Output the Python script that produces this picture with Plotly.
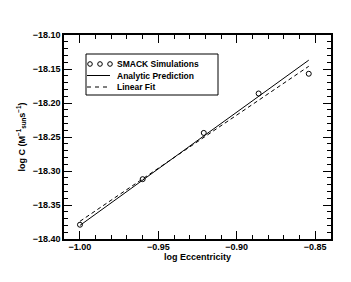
import plotly.graph_objects as go

# Data
sim_x = [-1.000, -0.960, -0.921, -0.886, -0.854]
sim_y = [-18.379, -18.312, -18.244, -18.186, -18.157]
pred_x = [-1.000, -0.854]
pred_y = [-18.380, -18.137]
fit_x = [-1.000, -0.854]
fit_y = [-18.374, -18.146]
legend_labels = ["SMACK Simulations", "Analytic Prediction", "Linear Fit"]

xr = [-1.0102, -0.8398]
yr = [-18.40, -18.10]
xt = [-1.0, -0.95, -0.9, -0.85]
yt = [-18.40, -18.35, -18.30, -18.25, -18.20, -18.15, -18.10]

FAM = "Liberation Sans, Arial, sans-serif"
font = dict(family=FAM, size=9, color="black")

fig = go.Figure()
fig.add_trace(go.Scatter(x=sim_x, y=sim_y, mode="markers", name=legend_labels[0],
                         marker=dict(symbol="circle-open", size=5, color="black", line=dict(width=1))))
fig.add_trace(go.Scatter(x=pred_x, y=pred_y, mode="lines", name=legend_labels[1],
                         line=dict(color="black", width=1)))
fig.add_trace(go.Scatter(x=fit_x, y=fit_y, mode="lines", name=legend_labels[2],
                         line=dict(color="black", width=1, dash="4px,3px")))

axis_common = dict(showgrid=False, zeroline=False, showline=True, linecolor="black", linewidth=1.5,
                   ticks="inside", ticklen=8, tickwidth=1, tickcolor="black", automargin=False,
                   tickfont=dict(family=FAM, size=9, color="black"))

fig.update_xaxes(range=xr, tickvals=xt,
                 ticktext=["<b>−%.2f</b>" % abs(v) for v in xt],
                 minor=dict(dtick=0.01, tick0=-1.0, ticks="inside", ticklen=4, tickcolor="black"),
                 title=dict(text="<b>log Eccentricity</b>", font=dict(size=9), standoff=1),
                 ticklabelstandoff=-2,
                 **axis_common)
fig.update_yaxes(range=yr, tickvals=yt,
                 ticktext=["<b>−%.2f</b>" % abs(v) for v in yt],
                 minor=dict(dtick=0.01, tick0=-18.40, ticks="inside", ticklen=4, tickcolor="black"),
                 title=dict(text="<b>log C (M<sup>−1</sup><sub>sun</sub>s<sup>−1</sup>)</b>", font=dict(size=9), standoff=6),
                 **axis_common)

# mirrored top / right axes
mirror_common = dict(showticklabels=False, showgrid=False, zeroline=False, showline=True,
                     linecolor="black", linewidth=1.5, ticks="inside", ticklen=8, tickwidth=1,
                     tickcolor="black", automargin=False)
fig.update_layout(
    xaxis2=dict(overlaying="x", side="top", range=xr, tickvals=xt,
                minor=dict(dtick=0.01, tick0=-1.0, ticks="inside", ticklen=4, tickcolor="black"),
                **mirror_common),
    yaxis2=dict(overlaying="y", side="right", range=yr, tickvals=yt,
                minor=dict(dtick=0.01, tick0=-18.40, ticks="inside", ticklen=4, tickcolor="black"),
                **mirror_common),
)
fig.add_trace(go.Scatter(x=[xr[0]], y=[yr[0]], xaxis="x2", yaxis="y2", mode="markers",
                         marker=dict(opacity=0), showlegend=False, hoverinfo="skip"))

# custom legend (paper coordinates); window coords, plot area 64..331 x 35..239
PW, PH = 267.0, 204.0
def px(v): return (v - 64) / PW
def py(v): return (239 - v) / PH

shapes = [dict(type="rect", xref="paper", yref="paper", x0=px(86), x1=px(218), y0=py(95), y1=py(54),
               line=dict(color="black", width=1), fillcolor="white", layer="above")]
rows = [64, 75.5, 87]
for cx in [90, 100, 110]:
    shapes.append(dict(type="circle", xref="paper", yref="paper", xsizemode="pixel", ysizemode="pixel",
                       xanchor=px(cx), yanchor=py(rows[0]), x0=-2.3, x1=2.3, y0=-2.3, y1=2.3,
                       line=dict(color="black", width=1), layer="above"))
shapes.append(dict(type="line", xref="paper", yref="paper", x0=px(87), x1=px(110), y0=py(rows[1]), y1=py(rows[1]),
                   line=dict(color="black", width=1), layer="above"))
shapes.append(dict(type="line", xref="paper", yref="paper", x0=px(87), x1=px(111), y0=py(rows[2]), y1=py(rows[2]),
                   line=dict(color="black", width=1, dash="4px,4px"), layer="above"))
annotations = [dict(text="<b>%s</b>" % t, xref="paper", yref="paper", x=px(115), y=py(r),
                    xanchor="left", yanchor="middle", showarrow=False,
                    font=dict(family=FAM, size=8.5, color="black"))
               for t, r in zip(legend_labels, rows)]

# page body has an 8px default margin: shrink the figure so the plot area lands where it should
fig.update_layout(width=343, height=274, margin=dict(l=56, r=20, t=27, b=43),
                  paper_bgcolor="white", plot_bgcolor="white", font=font,
                  showlegend=False, shapes=shapes, annotations=annotations)
fig.write_html("out.html")
